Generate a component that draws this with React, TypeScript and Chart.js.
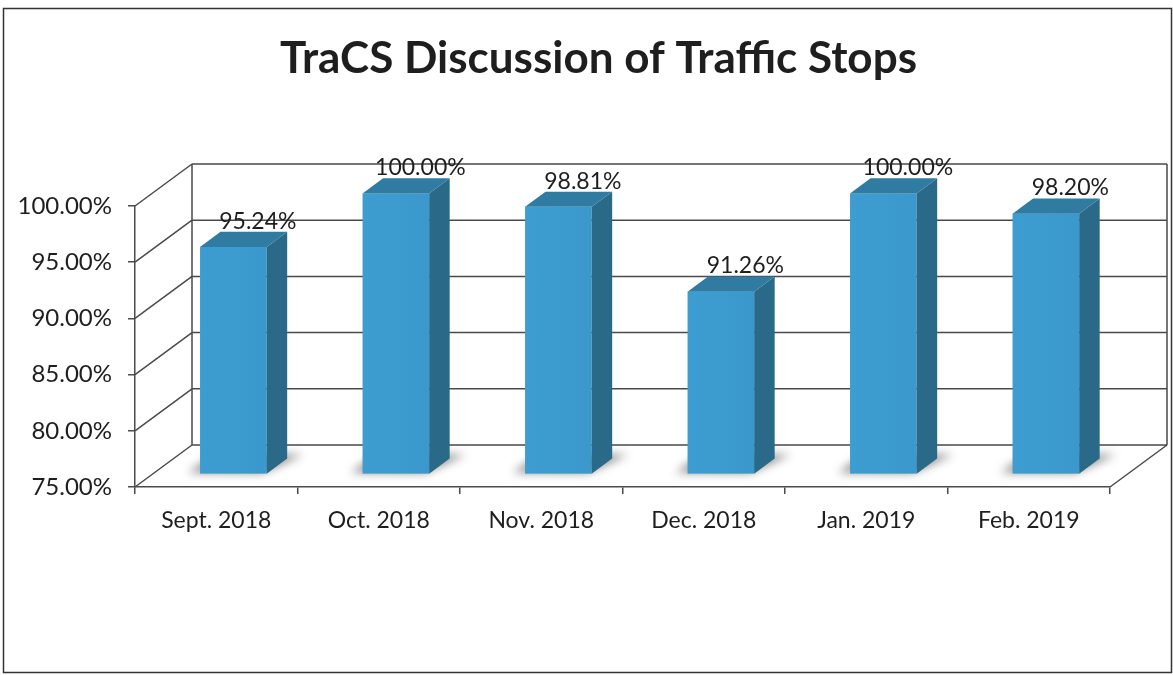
import React, { useEffect, useRef } from "react";
import { Chart, registerables } from "chart.js";

Chart.register(...registerables);

// ---- data ----
const title = "TraCS Discussion of Traffic Stops";
const categories = ["Sept. 2018", "Oct. 2018", "Nov. 2018", "Dec. 2018", "Jan. 2019", "Feb. 2019"];
const values = [95.24, 100.0, 98.81, 91.26, 100.0, 98.2];
const yMin = 75;
const yMax = 100;
const yStep = 5;

// ---- styling ----
const FONT = "Lato, 'Open Sans', sans-serif";
const DEPTH_DX = 57;
const DEPTH_DY = -42;
const BAR_FRONT = 0.3;
const BAR_BACK = 0.66;
const C_FRONT = "#3a98cc";
const C_SIDE = "#2a6a88";
const C_TOP = "#2f7ba2";
const C_GRID = "#4a4a4a";
const C_TEXT = "#1e1e1e";

const threeD = {
  id: "threeD",
  beforeDatasetsDraw(chart: any) {
    const { ctx, chartArea: a, scales } = chart;
    const y = scales.y;
    ctx.save();
    // back wall & floor grid
    ctx.strokeStyle = C_GRID;
    ctx.lineWidth = 1.5;
    ctx.beginPath();
    y.ticks.forEach((t: any) => {
      const py = y.getPixelForValue(t.value);
      ctx.moveTo(a.left + DEPTH_DX, py + DEPTH_DY);
      ctx.lineTo(a.right + DEPTH_DX, py + DEPTH_DY);
      ctx.moveTo(a.left, py);
      ctx.lineTo(a.left + DEPTH_DX, py + DEPTH_DY);
    });
    ctx.moveTo(a.left + DEPTH_DX, a.top + DEPTH_DY);
    ctx.lineTo(a.left + DEPTH_DX, a.bottom + DEPTH_DY);
    ctx.moveTo(a.right + DEPTH_DX, a.top + DEPTH_DY);
    ctx.lineTo(a.right + DEPTH_DX, a.bottom + DEPTH_DY);
    ctx.moveTo(a.right, a.bottom);
    ctx.lineTo(a.right + DEPTH_DX, a.bottom + DEPTH_DY);
    ctx.stroke();

    const meta = chart.getDatasetMeta(0);
    const fx = DEPTH_DX * BAR_FRONT;
    const fy = DEPTH_DY * BAR_FRONT;
    const sdx = DEPTH_DX * (BAR_BACK - BAR_FRONT);
    const sdy = DEPTH_DY * (BAR_BACK - BAR_FRONT);

    // shadows on floor
    meta.data.forEach((el: any) => {
      const p = el.getProps(["x", "y", "base", "width"], true);
      const l = p.x - p.width / 2 + fx;
      const r = p.x + p.width / 2 + fx;
      const b = p.base + fy;
      ctx.save();
      ctx.filter = "blur(5px)";
      ctx.fillStyle = "rgba(0,0,0,0.45)";
      ctx.beginPath();
      ctx.moveTo(l - 12, b - 1);
      ctx.lineTo(r - 4, b - 1);
      ctx.lineTo(r + sdx + 16, b + sdy - 4);
      ctx.lineTo(l + sdx - 6, b + sdy - 4);
      ctx.closePath();
      ctx.fill();
      ctx.restore();
    });

    // 3D bars
    meta.data.forEach((el: any) => {
      const p = el.getProps(["x", "y", "base", "width"], true);
      const l = p.x - p.width / 2 + fx;
      const r = p.x + p.width / 2 + fx;
      const t = p.y + fy;
      const b = p.base + fy;
      const g = ctx.createLinearGradient(l, 0, r, 0);
      g.addColorStop(0, "#3d9dd1");
      g.addColorStop(1, C_FRONT);
      ctx.fillStyle = g;
      ctx.fillRect(l, t, r - l, b - t);
      ctx.fillStyle = C_SIDE;
      ctx.beginPath();
      ctx.moveTo(r, t);
      ctx.lineTo(r + sdx, t + sdy);
      ctx.lineTo(r + sdx, b + sdy);
      ctx.lineTo(r, b);
      ctx.closePath();
      ctx.fill();
      ctx.fillStyle = C_TOP;
      ctx.beginPath();
      ctx.moveTo(l, t);
      ctx.lineTo(l + sdx, t + sdy);
      ctx.lineTo(r + sdx, t + sdy);
      ctx.lineTo(r, t);
      ctx.closePath();
      ctx.fill();
    });
    ctx.restore();
    return false;
  },
  afterDraw(chart: any) {
    const { ctx } = chart;
    const meta = chart.getDatasetMeta(0);
    const bx = DEPTH_DX * BAR_BACK;
    const by = DEPTH_DY * BAR_BACK;
    ctx.save();
    ctx.fillStyle = C_TEXT;
    ctx.font = `23px ${FONT}`;
    ctx.textAlign = "center";
    ctx.textBaseline = "bottom";
    meta.data.forEach((el: any, i: number) => {
      const p = el.getProps(["x", "y"], true);
      ctx.fillText(values[i].toFixed(2) + "%", p.x + bx + 4, p.y + by + 1);
    });
    // title
    ctx.font = `bold 44px ${FONT}`;
    ctx.textBaseline = "alphabetic";
    ctx.fillText(title, chart.width / 2 + 12, 73);
    // outer frame
    ctx.strokeStyle = "#333";
    ctx.lineWidth = 1.5;
    ctx.strokeRect(3.5, 8.5, chart.width - 5, chart.height - 11);
    ctx.restore();
  },
};

export default function App() {
  const ref = useRef<HTMLCanvasElement>(null);
  useEffect(() => {
    document.body.style.margin = "0";
    const chart = new Chart(ref.current!, {
      type: "bar",
      data: {
        labels: categories,
        datasets: [
          {
            data: values,
            base: yMin,
            backgroundColor: C_FRONT,
            categoryPercentage: 1,
            barPercentage: 0.41,
          },
        ],
      },
      options: {
        animation: false,
        responsive: false,
        layout: { padding: { left: 0, right: 63, top: 206, bottom: 0 } },
        plugins: {
          legend: { display: false },
          tooltip: { enabled: false },
          title: { display: false },
        },
        scales: {
          x: {
            afterFit: (s: any) => {
              s.height = 188;
            },
            grid: {
              display: true,
              drawOnChartArea: false,
              drawTicks: true,
              tickLength: 7,
              color: C_GRID,
              lineWidth: 1.5,
            },
            border: { display: true, color: C_GRID, width: 1.5 },
            ticks: { color: C_TEXT, font: { family: FONT, size: 23 }, padding: 13, maxRotation: 0 },
          },
          y: {
            min: yMin,
            max: yMax,
            afterFit: (s: any) => {
              s.width = 135;
            },
            grid: {
              display: true,
              drawOnChartArea: false,
              drawTicks: true,
              tickLength: 7,
              color: C_GRID,
              lineWidth: 1.5,
            },
            border: { display: true, color: C_GRID, width: 1.5 },
            ticks: {
              stepSize: yStep,
              color: C_TEXT,
              font: { family: FONT, size: 24 },
              padding: 16,
              callback: (v: any) => Number(v).toFixed(2) + "%",
            },
          },
        },
      },
      plugins: [threeD],
    });
    return () => chart.destroy();
  }, []);
  return (
    <div style={{ position: "absolute", left: 0, top: 0, width: 1173, height: 675, background: "#fff" }}>
      <canvas ref={ref} width={1173} height={675} />
    </div>
  );
}
